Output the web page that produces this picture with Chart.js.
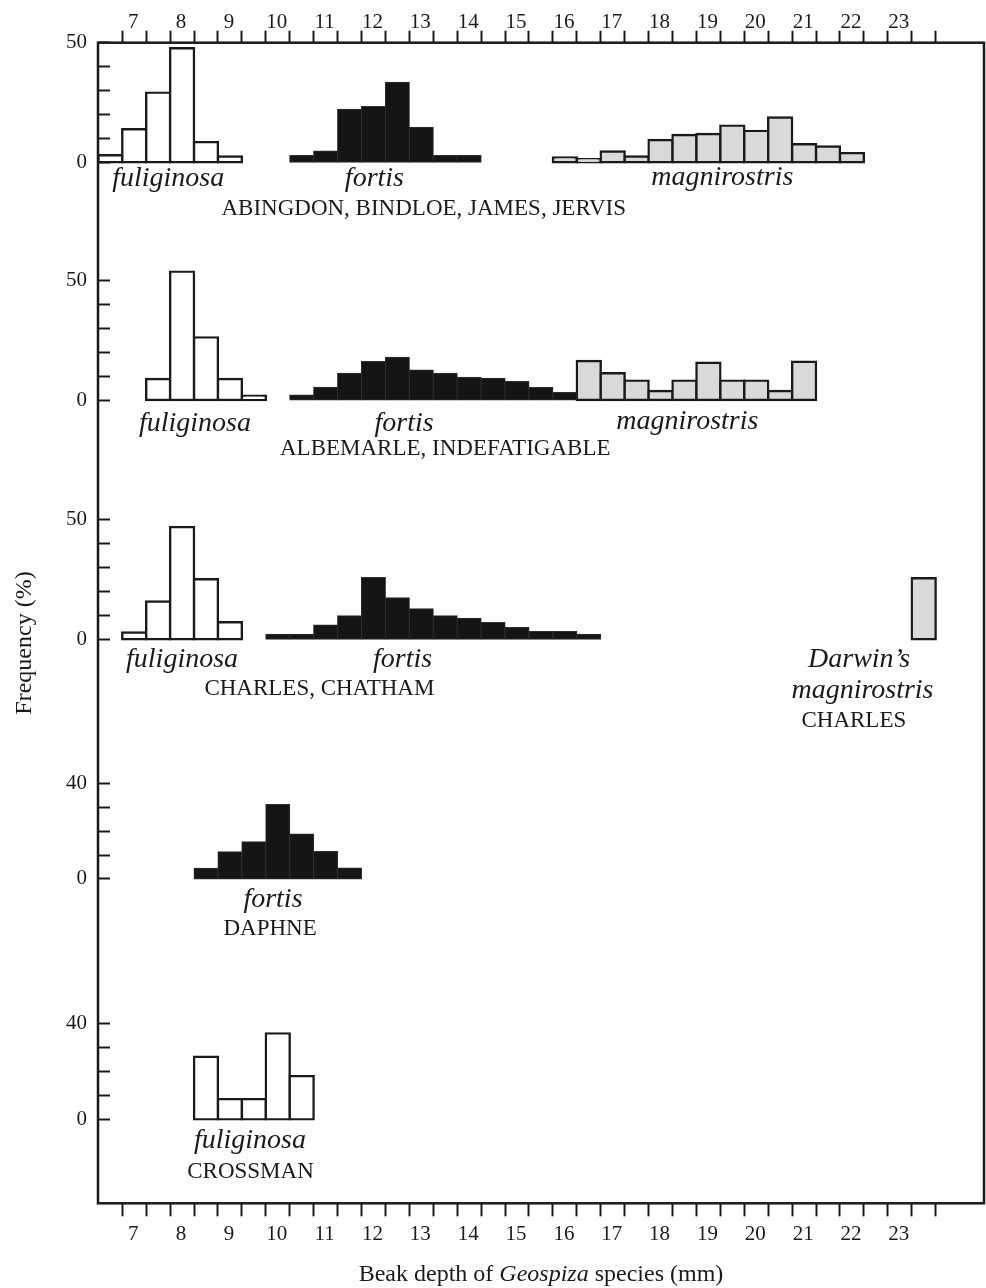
<!DOCTYPE html>
<html><head><meta charset="utf-8">
<script src="https://cdn.jsdelivr.net/npm/chart.js@4.4.1/dist/chart.umd.min.js"></script>
<style>html,body{margin:0;padding:0;background:#fff}#wrap{width:986px;height:1288px;position:relative}</style>
</head><body><div id="wrap"><canvas id="c"></canvas></div>
<script>
// ---------- DATA (bin centres in mm, frequency in %) ----------
const beakDepthLabels = [7,8,9,10,11,12,13,14,15,16,17,18,19,20,21,22,23];
const panelNames = ['ABINGDON, BINDLOE, JAMES, JERVIS','ALBEMARLE, INDEFATIGABLE','CHARLES, CHATHAM','DAPHNE','CROSSMAN'];
const panelMaxTick = [50,50,50,40,40];

const p1FuliginosaBins = [6.5,7.0,7.5,8.0,8.5,9.0];
const p1FuliginosaPct  = [2.9,13.8,29.1,47.7,8.4,2.4];
const p1FortisBins = [10.5,11.0,11.5,12.0,12.5,13.0,13.5,14.0];
const p1FortisPct  = [2.8,4.7,22.2,23.3,33.5,14.6,2.8,2.8];
const p1MagnirostrisBins = [16.0,16.5,17.0,17.5,18.0,18.5,19.0,19.5,20.0,20.5,21.0,21.5,22.0];
const p1MagnirostrisPct  = [2.0,1.3,4.5,2.4,9.3,11.4,11.8,15.3,13.1,18.7,7.5,6.6,3.8];

const p2FuliginosaBins = [7.5,8.0,8.5,9.0,9.5];
const p2FuliginosaPct  = [8.8,53.7,26.2,8.8,1.8];
const p2FortisBins = [10.5,11.0,11.5,12.0,12.5,13.0,13.5,14.0,14.5,15.0,15.5,16.0];
const p2FortisPct  = [2.1,5.3,11.2,16.1,17.9,12.6,11.2,9.5,9.1,7.7,5.2,3.1];
const p2MagnirostrisBins = [16.5,17.0,17.5,18.0,18.5,19.0,19.5,20.0,20.5,21.0];
const p2MagnirostrisPct  = [16.3,11.2,8.1,3.8,8.1,15.6,8.1,8.1,3.8,16.0];

const p3FuliginosaBins = [7.0,7.5,8.0,8.5,9.0];
const p3FuliginosaPct  = [2.8,15.8,46.9,25.1,7.1];
const p3FortisBins = [10.0,10.5,11.0,11.5,12.0,12.5,13.0,13.5,14.0,14.5,15.0,15.5,16.0,16.5];
const p3FortisPct  = [2.1,2.1,6.0,9.8,25.8,17.4,12.8,9.8,8.8,7.0,4.9,3.2,3.2,2.1];
const p3DarwinMagnirostrisBins = [23.5];
const p3DarwinMagnirostrisPct  = [25.5];

const p4FortisBins = [8.5,9.0,9.5,10.0,10.5,11.0,11.5];
const p4FortisPct  = [4.5,11.4,15.6,31.2,18.8,11.5,4.6];

const p5FuliginosaBins = [8.5,9.0,9.5,10.0,10.5];
const p5FuliginosaPct  = [26.2,8.5,8.5,36.0,18.1];

// ---------- LAYOUT (panel zero lines on a shared % axis) ----------
const PANEL_ZERO = [435.6, 336.1, 236.0, 135.7, 35.1];
const Y_MAX = 485.6;
const X_MIN = 6.243, X_MAX = 24.76;
const BIN_EDGE_START = 6.75, BIN_EDGE_END = 23.75, BIN_W = 0.5;

const FONT = '"Liberation Serif", "Times New Roman", serif';
const INK = '#1a1a1a';

const styles = {
  fuliginosa:   {backgroundColor:'#ffffff', borderColor:INK, borderWidth:2.4, inflateAmount:1.2},
  fortis:       {backgroundColor:'#151515', borderColor:'#303030', borderWidth:1, inflateAmount:0.5},
  magnirostris: {backgroundColor:'#d9d9d9', borderColor:INK, borderWidth:2.4, inflateAmount:1.2}
};

function series(bins, pct, panel, kind){
  const base = PANEL_ZERO[panel];
  return Object.assign({
    type:'bar',
    data: bins.map((b,i)=>({x:b, y:[base, base+pct[i]]})),
    grouped:false, barPercentage:1, categoryPercentage:1, borderSkipped:false,
    xAxisID:'x', yAxisID:'y'
  }, styles[kind]);
}

const datasets = [
  series(p1FuliginosaBins,p1FuliginosaPct,0,'fuliginosa'),
  series(p1FortisBins,p1FortisPct,0,'fortis'),
  series(p1MagnirostrisBins,p1MagnirostrisPct,0,'magnirostris'),
  series(p2FuliginosaBins,p2FuliginosaPct,1,'fuliginosa'),
  series(p2FortisBins,p2FortisPct,1,'fortis'),
  series(p2MagnirostrisBins,p2MagnirostrisPct,1,'magnirostris'),
  series(p3FuliginosaBins,p3FuliginosaPct,2,'fuliginosa'),
  series(p3FortisBins,p3FortisPct,2,'fortis'),
  series(p3DarwinMagnirostrisBins,p3DarwinMagnirostrisPct,2,'magnirostris'),
  series(p4FortisBins,p4FortisPct,3,'fortis'),
  series(p5FuliginosaBins,p5FuliginosaPct,4,'fuliginosa')
];

// text annotations: x in mm, dy in % below the panel zero line
const annotations = [
  {p:0,x:7.71,dy:-9.8,t:'fuliginosa',it:true},
  {p:0,x:12.02,dy:-9.8,t:'fortis',it:true},
  {p:0,x:19.29,dy:-9.6,t:'magnirostris',it:true},
  {p:0,x:13.05,dy:-22.0,t:panelNames[0]},
  {p:1,x:8.27,dy:-12.8,t:'fuliginosa',it:true},
  {p:1,x:12.64,dy:-12.8,t:'fortis',it:true},
  {p:1,x:18.56,dy:-12.0,t:'magnirostris',it:true},
  {p:1,x:13.5,dy:-22.9,t:panelNames[1]},
  {p:2,x:8.0,dy:-11.5,t:'fuliginosa',it:true},
  {p:2,x:12.61,dy:-11.5,t:'fortis',it:true},
  {p:2,x:10.87,dy:-23.3,t:panelNames[2]},
  {p:2,x:22.15,dy:-11.5,t:'Darwin\u2019s',it:true},
  {p:2,x:22.22,dy:-24.7,t:'magnirostris',it:true},
  {p:2,x:22.04,dy:-36.6,t:'CHARLES'},
  {p:3,x:9.90,dy:-11.6,t:'fortis',it:true},
  {p:3,x:9.84,dy:-23.4,t:panelNames[3]},
  {p:4,x:9.42,dy:-12.1,t:'fuliginosa',it:true},
  {p:4,x:9.43,dy:-24.7,t:panelNames[4]}
];

const xTickVals = [];
for (let v = BIN_EDGE_START; v <= BIN_EDGE_END + 1e-9; v += BIN_W) xTickVals.push(v);
const yTickVals = [];
PANEL_ZERO.forEach((z,i)=>{ for(let t=0;t<=panelMaxTick[i];t+=10) yTickVals.push(z+t); });

function xLabel(v){
  const lab = beakDepthLabels.find(l => Math.abs(l - 0.25 - v) < 1e-6);
  return lab === undefined ? '' : String(lab);
}
function yLabel(v){
  for (let i=0;i<PANEL_ZERO.length;i++){
    const d = Math.round((v - PANEL_ZERO[i])*10)/10;
    if (d === 0) return '0';
    if (d === panelMaxTick[i]) return String(panelMaxTick[i]);
  }
  return '';
}

const xAxisCommon = {
  type:'linear', min:X_MIN, max:X_MAX, bounds:'data', offset:false,
  afterBuildTicks: s => { s.ticks = xTickVals.map(v=>({value:v})); },
  grid:{offset:false, drawOnChartArea:false, drawTicks:true, tickWidth:2, tickColor:INK},
  border:{display:false},
};

const frameAndText = {
  id:'frameAndText',
  afterDraw(chart){
    const {ctx, chartArea:a} = chart;
    const xs = chart.scales.x, ys = chart.scales.y;
    ctx.save();
    ctx.strokeStyle = INK; ctx.lineWidth = 2.5;
    ctx.strokeRect(a.left, a.top, a.right-a.left, a.bottom-a.top);
    ctx.fillStyle = INK; ctx.textAlign = 'center'; ctx.textBaseline = 'alphabetic';
    for (const t of annotations){
      ctx.font = t.it ? ('italic 28px ' + FONT) : ('23px ' + FONT);
      ctx.fillText(t.t, xs.getPixelForValue(t.x), ys.getPixelForValue(PANEL_ZERO[t.p] + t.dy));
    }
    // y-axis title
    ctx.save();
    ctx.translate(25, (a.top + a.bottom)/2 + 20);
    ctx.rotate(-Math.PI/2);
    ctx.font = '24px ' + FONT; ctx.textBaseline = 'middle'; ctx.textAlign = 'center';
    ctx.fillText('Frequency (%)', 0, 0);
    ctx.restore();
    // x-axis title with italic genus
    const parts = [['Beak depth of ',false],['Geospiza',true],[' species (mm)',false]];
    let total = 0;
    const widths = parts.map(([s,it])=>{ ctx.font=(it?'italic ':'')+'24px '+FONT; const w=ctx.measureText(s).width; total+=w; return w; });
    let xx = (a.left + a.right)/2 - total/2;
    ctx.textAlign = 'left'; ctx.textBaseline = 'alphabetic';
    parts.forEach(([s,it],i)=>{ ctx.font=(it?'italic ':'')+'24px '+FONT; ctx.fillText(s, xx, 1281); xx += widths[i]; });
    ctx.restore();
  }
};

new Chart(document.getElementById('c'), {
  type:'bar',
  data:{datasets},
  options:{
    responsive:true, maintainAspectRatio:false, animation:false,
    layout:{padding:{left:0,right:2,top:0,bottom:0}},
    plugins:{legend:{display:false}, tooltip:{enabled:false}},
    scales:{
      x: Object.assign({}, xAxisCommon, {
        position:'bottom',
        afterFit: s => { s.height = 84.7; },
        grid: Object.assign({}, xAxisCommon.grid, {tickLength:13}),
        ticks:{autoSkip:false, maxRotation:0, minRotation:0, labelOffset:11, padding:6,
               font:{family:FONT, size:21}, color:INK, callback:xLabel}
      }),
      x2: Object.assign({}, xAxisCommon, {
        position:'top',
        afterFit: s => { s.height = 42.7; },
        grid: Object.assign({}, xAxisCommon.grid, {tickLength:12}),
        ticks:{autoSkip:false, maxRotation:0, minRotation:0, labelOffset:11, padding:-4,
               font:{family:FONT, size:21}, color:INK, callback:xLabel}
      }),
      y:{
        type:'linear', position:'left', min:0, max:Y_MAX, bounds:'data',
        afterBuildTicks: s => { s.ticks = yTickVals.map(v=>({value:v})); },
        afterFit: s => { s.width = 98; },
        grid:{drawOnChartArea:false, drawTicks:true, tickLength:-12, tickWidth:2, tickColor:INK},
        border:{display:false},
        ticks:{autoSkip:false, padding:23, font:{family:FONT, size:21}, color:INK, callback:yLabel}
      }
    }
  },
  plugins:[frameAndText]
});
</script></body></html>
